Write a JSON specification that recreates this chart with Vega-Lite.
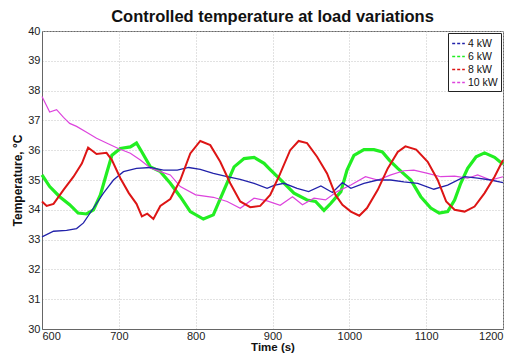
{
  "$schema": "https://vega.github.io/schema/vega-lite/v6.json",
  "autosize": {"type": "none"},
  "width": 461,
  "height": 298,
  "padding": {"left": 42, "top": 31, "right": 15, "bottom": 24},
  "background": "white",
  "title": {"text": "Controlled temperature at load variations", "font": "Liberation Sans", "fontSize": 16.5, "fontWeight": "bold", "color": "#111", "offset": 0},
  "config": {
    "view": {"stroke": "#666", "strokeWidth": 1},
    "axis": {"labelFont": "Liberation Sans", "labelFontSize": 11, "labelColor": "#222", "titleFont": "Liberation Sans", "titleFontSize": 12, "titleFontWeight": "bold", "titleColor": "#111", "domainColor": "#666", "tickColor": "#666", "tickSize": 3, "gridColor": "#c4c4c4", "gridDash": [1, 2], "gridWidth": 1}
  },
  "datasets": {
    "s4": [
      {"t":600,"T":33.09},{"t":615,"T":33.28},{"t":632,"T":33.31},{"t":645,"T":33.37},{"t":654,"T":33.56},{"t":667,"T":34.06},{"t":680,"T":34.56},{"t":693,"T":35.0},{"t":706,"T":35.28},{"t":723,"T":35.39},{"t":741,"T":35.42},{"t":758,"T":35.33},{"t":776,"T":35.33},{"t":791,"T":35.42},{"t":806,"T":35.36},{"t":823,"T":35.22},{"t":841,"T":35.11},{"t":858,"T":35.02},{"t":876,"T":34.89},{"t":893,"T":34.72},{"t":902,"T":34.82},{"t":915,"T":34.89},{"t":932,"T":34.72},{"t":947,"T":34.61},{"t":963,"T":34.8},{"t":978,"T":34.58},{"t":991,"T":34.91},{"t":1002,"T":34.72},{"t":1019,"T":34.89},{"t":1037,"T":35.0},{"t":1054,"T":35.0},{"t":1071,"T":34.94},{"t":1089,"T":34.89},{"t":1110,"T":34.69},{"t":1128,"T":34.83},{"t":1150,"T":35.11},{"t":1167,"T":35.06},{"t":1184,"T":35.0},{"t":1200,"T":34.91}
    ],
    "s6": [
      {"t":600,"T":35.17},{"t":610,"T":34.78},{"t":623,"T":34.44},{"t":636,"T":34.17},{"t":647,"T":33.89},{"t":658,"T":33.86},{"t":667,"T":34.0},{"t":676,"T":34.5},{"t":684,"T":35.22},{"t":691,"T":35.83},{"t":702,"T":36.06},{"t":715,"T":36.11},{"t":723,"T":36.24},{"t":730,"T":35.94},{"t":741,"T":35.44},{"t":754,"T":35.28},{"t":767,"T":34.89},{"t":780,"T":34.44},{"t":793,"T":33.94},{"t":810,"T":33.69},{"t":823,"T":33.83},{"t":837,"T":34.67},{"t":850,"T":35.44},{"t":863,"T":35.72},{"t":876,"T":35.76},{"t":889,"T":35.56},{"t":897,"T":35.35},{"t":910,"T":35.02},{"t":928,"T":34.56},{"t":945,"T":34.33},{"t":956,"T":34.28},{"t":967,"T":33.98},{"t":976,"T":34.22},{"t":989,"T":34.61},{"t":997,"T":35.33},{"t":1006,"T":35.83},{"t":1019,"T":36.02},{"t":1032,"T":36.02},{"t":1043,"T":35.94},{"t":1052,"T":35.67},{"t":1063,"T":35.39},{"t":1080,"T":35.0},{"t":1093,"T":34.44},{"t":1106,"T":34.06},{"t":1117,"T":33.89},{"t":1128,"T":33.94},{"t":1137,"T":34.33},{"t":1145,"T":34.89},{"t":1154,"T":35.39},{"t":1165,"T":35.78},{"t":1176,"T":35.91},{"t":1189,"T":35.76},{"t":1200,"T":35.53}
    ],
    "s8": [
      {"t":600,"T":34.28},{"t":606,"T":34.13},{"t":615,"T":34.2},{"t":628,"T":34.67},{"t":641,"T":35.11},{"t":652,"T":35.56},{"t":660,"T":36.09},{"t":671,"T":35.87},{"t":684,"T":35.91},{"t":691,"T":35.67},{"t":702,"T":35.06},{"t":713,"T":34.56},{"t":723,"T":34.2},{"t":730,"T":33.78},{"t":737,"T":33.87},{"t":745,"T":33.69},{"t":754,"T":34.13},{"t":767,"T":34.36},{"t":780,"T":35.0},{"t":793,"T":35.89},{"t":806,"T":36.31},{"t":819,"T":36.17},{"t":832,"T":35.61},{"t":845,"T":34.89},{"t":858,"T":34.28},{"t":871,"T":34.09},{"t":884,"T":34.13},{"t":897,"T":34.5},{"t":908,"T":35.1},{"t":923,"T":36.0},{"t":934,"T":36.31},{"t":945,"T":36.24},{"t":958,"T":35.78},{"t":971,"T":35.22},{"t":982,"T":34.5},{"t":991,"T":34.17},{"t":1002,"T":33.94},{"t":1013,"T":33.8},{"t":1023,"T":34.06},{"t":1037,"T":34.67},{"t":1050,"T":35.39},{"t":1063,"T":35.94},{"t":1073,"T":36.13},{"t":1087,"T":36.02},{"t":1102,"T":35.61},{"t":1115,"T":35.0},{"t":1126,"T":34.28},{"t":1137,"T":34.0},{"t":1150,"T":33.94},{"t":1163,"T":34.11},{"t":1176,"T":34.56},{"t":1189,"T":35.11},{"t":1200,"T":35.67}
    ],
    "s10": [
      {"t":600,"T":37.8},{"t":610,"T":37.28},{"t":619,"T":37.36},{"t":628,"T":37.1},{"t":636,"T":36.9},{"t":645,"T":36.8},{"t":658,"T":36.6},{"t":671,"T":36.4},{"t":684,"T":36.24},{"t":700,"T":36.05},{"t":715,"T":35.9},{"t":728,"T":35.67},{"t":741,"T":35.4},{"t":754,"T":35.28},{"t":767,"T":35.17},{"t":780,"T":34.78},{"t":800,"T":34.5},{"t":823,"T":34.42},{"t":841,"T":34.28},{"t":858,"T":34.05},{"t":876,"T":34.39},{"t":893,"T":34.3},{"t":910,"T":34.15},{"t":926,"T":34.44},{"t":939,"T":34.17},{"t":954,"T":34.39},{"t":969,"T":34.33},{"t":984,"T":34.61},{"t":1002,"T":34.83},{"t":1021,"T":35.11},{"t":1037,"T":35.0},{"t":1054,"T":35.17},{"t":1071,"T":35.31},{"t":1084,"T":35.33},{"t":1102,"T":35.22},{"t":1119,"T":35.11},{"t":1137,"T":35.13},{"t":1154,"T":35.06},{"t":1167,"T":35.17},{"t":1184,"T":35.0},{"t":1200,"T":35.11}
    ]
  },
  "encoding": {
    "x": {"field": "t", "type": "quantitative", "scale": {"domain": [600, 1200], "nice": false}, "axis": {"values": [600,700,800,900,1000,1100,1200], "format": "d", "title": "Time (s)", "titlePadding": 0, "labelPadding": 1, "ticks": false, "titleFontSize": 11.5}},
    "y": {"field": "T", "type": "quantitative", "scale": {"domain": [30, 40], "nice": false, "zero": false}, "axis": {"values": [30,31,32,33,34,35,36,37,38,39,40], "title": "Temperature, °C", "titlePadding": 3, "labelPadding": 2, "ticks": false}},
    "color": {"field": "s", "type": "nominal", "scale": {"domain": ["4 kW", "6 kW", "8 kW", "10 kW"], "range": ["#2222aa", "#22ee22", "#dd1515", "#dd44dd"]},
      "legend": {"title": null, "orient": "top-right", "offset": 2, "padding": 3, "strokeColor": "#222", "fillColor": "white", "symbolType": "stroke", "symbolSize": 160, "symbolDash": [3, 2], "symbolStrokeWidth": 1.5, "labelFont": "Liberation Sans", "labelFontSize": 10.5, "labelColor": "#111", "labelOffset": 2, "rowPadding": 0, "cornerRadius": 0}}
  },
  "layer": [
    {"data": {"name": "s6"}, "transform": [{"calculate": "'6 kW'", "as": "s"}], "mark": {"type": "line", "strokeWidth": 3.2}},
    {"data": {"name": "s10"}, "transform": [{"calculate": "'10 kW'", "as": "s"}], "mark": {"type": "line", "strokeWidth": 1.2}},
    {"data": {"name": "s4"}, "transform": [{"calculate": "'4 kW'", "as": "s"}], "mark": {"type": "line", "strokeWidth": 1.3}},
    {"data": {"name": "s8"}, "transform": [{"calculate": "'8 kW'", "as": "s"}], "mark": {"type": "line", "strokeWidth": 2}}
  ]
}
